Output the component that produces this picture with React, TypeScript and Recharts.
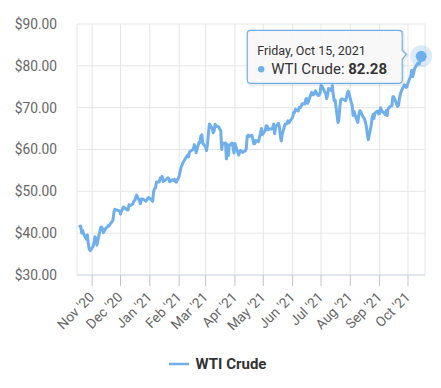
import React from 'react';
import { LineChart, Line, XAxis, YAxis, CartesianGrid, Legend, ReferenceDot } from 'recharts';

const SERIES_NAME = 'WTI Crude';
const LINE_COLOR = '#6fb0ec';

// daily closes, [day, price] per month
const oct20 = [[19, 41.6], [20, 41.7], [21, 40.03], [22, 40.64], [23, 39.85], [26, 38.56], [27, 39.57], [28, 37.39], [29, 36.17], [30, 35.79]];
const nov20 = [[2, 36.81], [3, 37.66], [4, 39.15], [5, 38.79], [6, 37.14], [9, 40.29], [10, 41.36], [11, 41.45], [12, 41.12], [13, 40.13], [16, 41.34], [17, 41.43], [18, 41.82], [19, 41.74], [20, 42.15], [23, 43.06], [24, 44.91], [25, 45.71], [27, 45.53], [30, 45.34]];
const dec20 = [[1, 44.55], [2, 45.28], [3, 45.64], [4, 46.26], [7, 45.76], [8, 45.6], [9, 45.52], [10, 46.78], [11, 46.57], [14, 46.99], [15, 47.62], [16, 47.82], [17, 48.36], [18, 49.1], [21, 47.74], [22, 47.02], [23, 48.12], [24, 48.23], [28, 47.62], [29, 48.0], [30, 48.4], [31, 48.52]];
const jan21 = [[4, 47.62], [5, 49.93], [6, 50.63], [7, 50.83], [8, 52.24], [11, 52.25], [12, 53.21], [13, 52.91], [14, 53.57], [15, 52.36], [19, 52.98], [20, 53.24], [21, 53.13], [22, 52.27], [25, 52.77], [26, 52.61], [27, 52.85], [28, 52.34], [29, 52.2]];
const feb21 = [[1, 53.55], [2, 54.76], [3, 55.69], [4, 56.23], [5, 56.85], [8, 57.97], [9, 58.36], [10, 58.68], [11, 58.24], [12, 59.47], [16, 60.05], [17, 61.14], [18, 60.52], [19, 59.24], [22, 61.7], [23, 61.67], [24, 63.22], [25, 63.53], [26, 61.5]];
const mar21 = [[1, 60.64], [2, 59.75], [3, 61.28], [4, 63.83], [5, 66.09], [8, 65.05], [9, 64.01], [10, 64.44], [11, 66.02], [12, 65.61], [15, 65.39], [16, 64.8], [17, 64.6], [18, 60.0], [19, 61.42], [22, 61.55], [23, 57.76], [24, 61.18], [25, 58.56], [26, 60.97], [29, 61.56], [30, 60.55], [31, 59.16]];
const apr21 = [[1, 61.45], [5, 58.65], [6, 59.33], [7, 59.77], [8, 59.6], [9, 59.32], [12, 59.7], [13, 60.18], [14, 63.15], [15, 63.46], [16, 63.13], [19, 63.38], [20, 62.44], [21, 61.35], [22, 61.43], [23, 62.14], [26, 61.91], [27, 62.94], [28, 63.86], [29, 65.01], [30, 63.58]];
const may21 = [[3, 64.49], [4, 65.69], [5, 65.63], [6, 64.71], [7, 64.9], [10, 64.92], [11, 65.28], [12, 66.08], [13, 63.82], [14, 65.37], [17, 66.27], [18, 65.49], [19, 63.36], [20, 62.05], [21, 63.58], [24, 66.05], [25, 66.07], [26, 66.21], [27, 66.85], [28, 66.32]];
const jun21 = [[1, 67.72], [2, 68.83], [3, 68.81], [4, 69.62], [7, 69.23], [8, 70.05], [9, 69.96], [10, 70.29], [11, 70.91], [14, 70.88], [15, 72.12], [16, 72.15], [17, 71.04], [18, 71.64], [21, 73.66], [22, 73.06], [23, 73.08], [24, 73.3], [25, 74.05], [28, 72.91], [29, 72.98], [30, 73.47]];
const jul21 = [[1, 75.23], [2, 75.16], [6, 73.37], [7, 72.2], [8, 72.94], [9, 74.56], [12, 74.1], [13, 75.25], [14, 73.13], [15, 71.65], [16, 71.81], [19, 66.42], [20, 67.42], [21, 70.3], [22, 71.91], [23, 72.07], [26, 71.91], [27, 71.65], [28, 72.39], [29, 73.62], [30, 73.95]];
const aug21 = [[2, 71.26], [3, 70.56], [4, 68.15], [5, 69.09], [6, 68.28], [9, 66.48], [10, 68.29], [11, 69.25], [12, 69.09], [13, 68.44], [16, 67.29], [17, 66.59], [18, 65.46], [19, 63.69], [20, 62.32], [23, 65.64], [24, 67.54], [25, 68.36], [26, 67.42], [27, 68.74], [30, 69.21], [31, 68.5]];
const sep21 = [[1, 68.59], [2, 69.99], [3, 69.29], [7, 68.35], [8, 69.3], [9, 68.14], [10, 69.72], [13, 70.45], [14, 70.46], [15, 72.61], [16, 72.61], [17, 71.97], [20, 70.29], [21, 70.56], [22, 72.23], [23, 73.3], [24, 73.98], [27, 75.45], [28, 75.29], [29, 74.83], [30, 75.03]];
const oct21 = [[1, 75.88], [4, 77.62], [5, 78.93], [6, 77.43], [7, 78.3], [8, 79.35], [11, 80.52], [12, 80.64], [13, 80.44], [14, 81.31], [15, 82.28]];

const months: [number, number, number[][]][] = [
  [2020, 9, oct20], [2020, 10, nov20], [2020, 11, dec20],
  [2021, 0, jan21], [2021, 1, feb21], [2021, 2, mar21], [2021, 3, apr21],
  [2021, 4, may21], [2021, 5, jun21], [2021, 6, jul21], [2021, 7, aug21],
  [2021, 8, sep21], [2021, 9, oct21],
];

const tickDates = [
  Date.UTC(2020, 10, 1), Date.UTC(2020, 11, 1), Date.UTC(2021, 0, 1), Date.UTC(2021, 1, 1),
  Date.UTC(2021, 2, 1), Date.UTC(2021, 3, 1), Date.UTC(2021, 4, 1), Date.UTC(2021, 5, 1),
  Date.UTC(2021, 6, 1), Date.UTC(2021, 7, 1), Date.UTC(2021, 8, 1), Date.UTC(2021, 9, 1),
];
const tickLabels = ["Nov '20", "Dec '20", "Jan '21", "Feb '21", "Mar '21", "Apr '21", "May '21", "Jun '21", "Jul '21", "Aug '21", "Sep '21", "Oct '21"];
const yTicks = [30, 40, 50, 60, 70, 80, 90];
const xDomain = [Date.UTC(2020, 9, 16), Date.UTC(2021, 9, 19)];

const dayNames = ['Sunday', 'Monday', 'Tuesday', 'Wednesday', 'Thursday', 'Friday', 'Saturday'];
const monthNames = ['Jan', 'Feb', 'Mar', 'Apr', 'May', 'Jun', 'Jul', 'Aug', 'Sep', 'Oct', 'Nov', 'Dec'];

const data = months.flatMap(([y, m, rows]) =>
  rows.map(([d, v]) => ({ date: Date.UTC(y, m, d), price: v }))
);
const last = data[data.length - 1];

const FONT = 'Roboto, "Noto Sans", sans-serif';

const fmtHeader = (t: number) => {
  const d = new Date(t);
  return `${dayNames[d.getUTCDay()]}, ${monthNames[d.getUTCMonth()]} ${d.getUTCDate()}, ${d.getUTCFullYear()}`;
};

const MonthTick = (props: any) => {
  const { x, y, payload } = props;
  const i = tickDates.indexOf(payload.value);
  const tx = x + 3;
  const ty = y + 10;
  return (
    <text x={tx} y={ty} transform={`rotate(-45 ${tx} ${ty})`} textAnchor="end" fill="#666666" fontSize={13.75} fontFamily={FONT}>
      {tickLabels[i]}
    </text>
  );
};

const HoverPoint = (props: any) => {
  const { cx, cy } = props;
  const l = cx - 174, r = cx - 19, t = cy - 26, b = cy + 27, rr = 3.5;
  const path = `M ${l + rr} ${t} L ${r - rr} ${t} Q ${r} ${t} ${r} ${t + rr} L ${r} ${cy - 6} L ${cx - 15} ${cy - 2} L ${r} ${cy + 3} L ${r} ${b - rr} Q ${r} ${b} ${r - rr} ${b} L ${l + rr} ${b} Q ${l} ${b} ${l} ${b - rr} L ${l} ${t + rr} Q ${l} ${t} ${l + rr} ${t} Z`;
  return (
    <g>
      <circle cx={cx} cy={cy} r={11} fill={LINE_COLOR} fillOpacity={0.25} />
      <circle cx={cx} cy={cy} r={5.5} fill={LINE_COLOR} />
      <path d={path} transform="translate(1 1)" fill="none" stroke="#000" strokeOpacity={0.08} strokeWidth={3} />
      <path d={path} fill="rgba(247,247,247,0.9)" stroke={LINE_COLOR} strokeWidth={1.2} />
      <text x={l + 10} y={cy - 1.5} fontSize={12.5} fill="#333333" fontFamily={FONT}>
        {fmtHeader(last.date)}
      </text>
      <circle cx={l + 14} cy={cy + 13} r={3.2} fill={LINE_COLOR} />
      <text x={l + 24} y={cy + 18} fontSize={15} fill="#333333" fontFamily={FONT}>
        {SERIES_NAME}: <tspan fontWeight="bold">{last.price.toFixed(2)}</tspan>
      </text>
    </g>
  );
};

const LegendContent = () => (
  <div style={{ height: 40, display: 'flex', justifyContent: 'center', alignItems: 'flex-start', paddingLeft: 10, boxSizing: 'border-box' }}>
    <div style={{ display: 'flex', alignItems: 'center', height: 32 }}>
      <svg width={20} height={4} style={{ marginRight: 7 }}>
        <line x1={0} y1={2} x2={20} y2={2} stroke={LINE_COLOR} strokeWidth={2.5} />
      </svg>
      <span style={{ fontFamily: FONT, fontSize: 15, fontWeight: 'bold', color: '#333333' }}>{SERIES_NAME}</span>
    </div>
  </div>
);

export default function App() {
  return (
    <div style={{ position: 'absolute', left: 0, top: 0, width: 441, height: 388, background: '#fff' }}>
      <LineChart width={441} height={388} data={data} margin={{ top: 24, right: 16, left: 0, bottom: 0 }}>
        <CartesianGrid stroke="#e6e6e6" strokeWidth={1} />
        <XAxis
          dataKey="date"
          type="number"
          scale="time"
          domain={xDomain}
          ticks={tickDates}
          interval={0}
          allowDataOverflow
          height={73}
          tickSize={11}
          tickMargin={2}
          axisLine={{ stroke: '#ccd6eb' }}
          tickLine={{ stroke: '#c4c4c4' }}
          tick={<MonthTick />}
        />
        <YAxis
          width={77}
          domain={[30, 90]}
          ticks={yTicks}
          interval={0}
          axisLine={false}
          tickLine={false}
          tickSize={0}
          tickMargin={20}
          tick={{ fill: '#666666', fontSize: 13.75, fontFamily: FONT }}
          tickFormatter={(v: number) => `$${v.toFixed(2)}`}
        />
        <Legend verticalAlign="bottom" content={<LegendContent />} />
        <Line
          type="linear"
          dataKey="price"
          name={SERIES_NAME}
          stroke={LINE_COLOR}
          strokeWidth={3}
          strokeLinejoin="round"
          strokeLinecap="round"
          dot={false}
          activeDot={false}
          isAnimationActive={false}
        />
        <ReferenceDot x={last.date} y={last.price} r={5} shape={<HoverPoint />} />
      </LineChart>
    </div>
  );
}
